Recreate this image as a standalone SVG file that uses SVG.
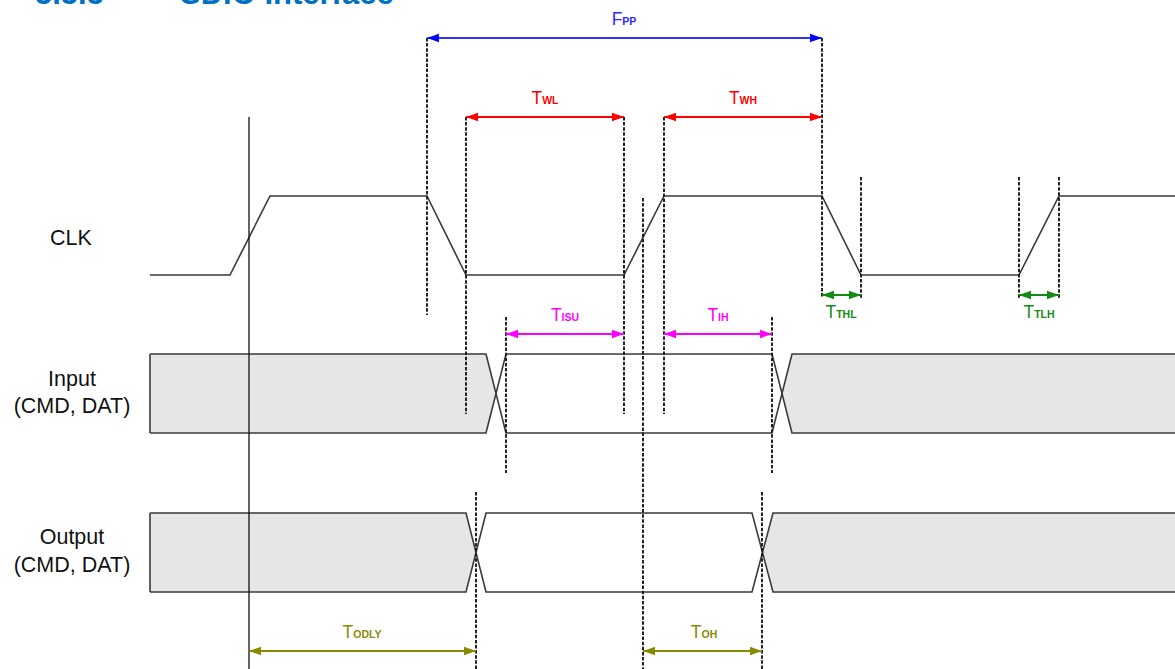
<svg xmlns="http://www.w3.org/2000/svg" width="1175" height="669" viewBox="0 0 1175 669">
<style>
.sig{fill:none;stroke:#3a3a3a;stroke-width:1.6;stroke-linejoin:miter}
.bus{fill:#e6e6e6;stroke:none}
.dash{fill:none;stroke:#1a1a1a;stroke-width:1.9;stroke-dasharray:3.5,1.6}
.solid{fill:none;stroke:#111;stroke-width:1.3}
.lbl{font-family:"Liberation Sans",Arial,sans-serif;font-size:21.5px;fill:#111;text-anchor:middle}
.t{font-family:"Liberation Sans",Arial,sans-serif;font-size:17.5px;text-anchor:middle}
.s{font-size:10.5px;font-weight:bold}
.title{font-family:"Liberation Sans",Arial,sans-serif;font-size:31px;font-weight:bold;fill:#0070c0}
</style>
<defs>
<marker id="ab" markerUnits="userSpaceOnUse" markerWidth="13" markerHeight="10" refX="12" refY="5" orient="auto-start-reverse"><path d="M0,0.8 L12,5 L0,9.2 z" fill="#0000ff"/></marker>
<marker id="ar" markerUnits="userSpaceOnUse" markerWidth="13" markerHeight="10" refX="12" refY="5" orient="auto-start-reverse"><path d="M0,0.8 L12,5 L0,9.2 z" fill="#ff0000"/></marker>
<marker id="am" markerUnits="userSpaceOnUse" markerWidth="13" markerHeight="10" refX="12" refY="5" orient="auto-start-reverse"><path d="M0,0.8 L12,5 L0,9.2 z" fill="#ff00ff"/></marker>
<marker id="ag" markerUnits="userSpaceOnUse" markerWidth="13" markerHeight="10" refX="12" refY="5" orient="auto-start-reverse"><path d="M0,0.8 L12,5 L0,9.2 z" fill="#138a13"/></marker>
<marker id="ao" markerUnits="userSpaceOnUse" markerWidth="13" markerHeight="10" refX="12" refY="5" orient="auto-start-reverse"><path d="M0,0.8 L12,5 L0,9.2 z" fill="#8a8a00"/></marker>
</defs>
<rect width="1175" height="669" fill="#ffffff"/>
<text class="title" x="35" y="4">5.5.5</text>
<text class="title" x="180" y="4">SDIO Interface</text>

<g id="clk">
<text class="lbl" x="71" y="245">CLK</text>
<path class="sig" d="M150,275 H230 L270,196 H427 L466,275 H624 L664,196 H822 L861,275 H1019 L1059,196 H1176"/>
</g>

<g id="input">
<text class="lbl" x="72" y="386">Input</text>
<text class="lbl" x="72" y="413">(CMD, DAT)</text>
<polygon class="bus" points="150,354 486,354 496,393.5 486,433 150,433"/>
<polygon class="bus" points="792,354 1176,354 1176,433 792,433 782,393.5"/>
<path class="sig" d="M150,354 H486 L506,433 H772 L792,354 H1176"/>
<path class="sig" d="M150,433 H486 L506,354 H772 L792,433 H1176"/>
<path class="sig" d="M150,354 V433"/>
</g>

<g id="output">
<text class="lbl" x="72" y="544">Output</text>
<text class="lbl" x="72" y="572">(CMD, DAT)</text>
<polygon class="bus" points="150,513 466,513 476,552.5 466,592 150,592"/>
<polygon class="bus" points="773,513 1176,513 1176,592 773,592 763,552.5"/>
<path class="sig" d="M150,513 H466 L486,592 H752 L773,513 H1176"/>
<path class="sig" d="M150,592 H466 L486,513 H752 L773,592 H1176"/>
<path class="sig" d="M150,513 V592"/>
</g>

<g id="connectors">
<line class="solid" x1="249" y1="117" x2="249" y2="669"/>
<line class="dash" x1="427" y1="38" x2="427" y2="315"/>
<line class="dash" x1="466" y1="117" x2="466" y2="414"/>
<line class="dash" x1="624" y1="117" x2="624" y2="414"/>
<line class="dash" x1="664" y1="117" x2="664" y2="414"/>
<line class="dash" x1="643" y1="198" x2="643" y2="669"/>
<line class="dash" x1="822" y1="38" x2="822" y2="298"/>
<line class="dash" x1="861" y1="177" x2="861" y2="298"/>
<line class="dash" x1="1019" y1="177" x2="1019" y2="298"/>
<line class="dash" x1="1059" y1="177" x2="1059" y2="298"/>
<line class="dash" x1="506" y1="317" x2="506" y2="473"/>
<line class="dash" x1="772" y1="317" x2="772" y2="473"/>
<line class="dash" x1="476" y1="492" x2="476" y2="669"/>
<line class="dash" x1="762" y1="492" x2="762" y2="669"/>

<line x1="427" y1="38" x2="822" y2="38" stroke="#3030ff" stroke-width="1.8" marker-start="url(#ab)" marker-end="url(#ab)"/>
<line x1="466" y1="117" x2="624" y2="117" stroke="#ff0000" stroke-width="1.8" marker-start="url(#ar)" marker-end="url(#ar)"/>
<line x1="664" y1="117" x2="822" y2="117" stroke="#ff0000" stroke-width="1.8" marker-start="url(#ar)" marker-end="url(#ar)"/>
<line x1="506" y1="334" x2="624" y2="334" stroke="#ff00ff" stroke-width="1.8" marker-start="url(#am)" marker-end="url(#am)"/>
<line x1="664" y1="334" x2="772" y2="334" stroke="#ff00ff" stroke-width="1.8" marker-start="url(#am)" marker-end="url(#am)"/>
<line x1="822" y1="295" x2="861" y2="295" stroke="#138a13" stroke-width="1.8" marker-start="url(#ag)" marker-end="url(#ag)"/>
<line x1="1019" y1="295" x2="1059" y2="295" stroke="#138a13" stroke-width="1.8" marker-start="url(#ag)" marker-end="url(#ag)"/>
<line x1="249" y1="651" x2="476" y2="651" stroke="#8a8a00" stroke-width="1.8" marker-start="url(#ao)" marker-end="url(#ao)"/>
<line x1="643" y1="651" x2="762" y2="651" stroke="#8a8a00" stroke-width="1.8" marker-start="url(#ao)" marker-end="url(#ao)"/>

<text class="t" x="624" y="25" fill="#2a2aff">F<tspan class="s">PP</tspan></text>
<text class="t" x="545" y="104" fill="#ff0000">T<tspan class="s">WL</tspan></text>
<text class="t" x="743" y="104" fill="#ff0000">T<tspan class="s">WH</tspan></text>
<text class="t" x="565" y="321" fill="#ff00ff">T<tspan class="s">ISU</tspan></text>
<text class="t" x="718" y="321" fill="#ff00ff">T<tspan class="s">IH</tspan></text>
<text class="t" x="841" y="318" fill="#138a13">T<tspan class="s">THL</tspan></text>
<text class="t" x="1039" y="318" fill="#138a13">T<tspan class="s">TLH</tspan></text>
<text class="t" x="362" y="638" fill="#8a8a00">T<tspan class="s">ODLY</tspan></text>
<text class="t" x="704" y="638" fill="#8a8a00">T<tspan class="s">OH</tspan></text>
</g>
</svg>
